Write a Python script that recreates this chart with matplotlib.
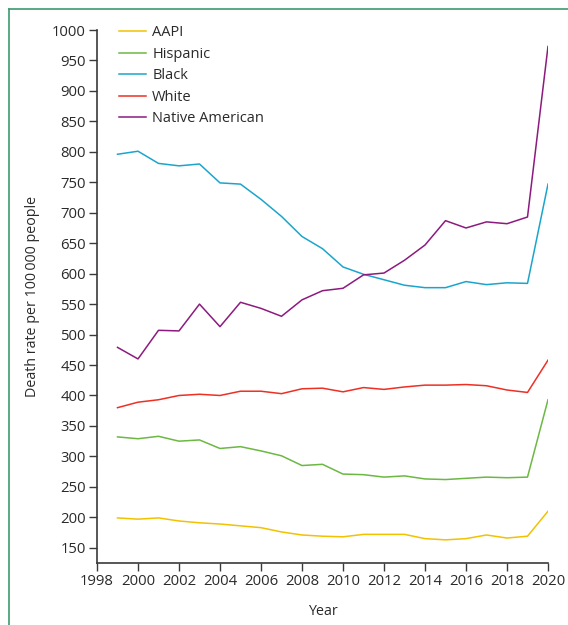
import matplotlib
matplotlib.use("Agg")
import matplotlib.pyplot as plt
from matplotlib.lines import Line2D

years = list(range(1999, 2021))
aapi = [199, 197, 199, 194, 191, 189, 186, 183, 176, 171, 169, 168, 172, 172, 172, 165, 163, 165, 171, 166, 169, 210]
hispanic = [332, 329, 333, 325, 327, 313, 316, 309, 301, 285, 287, 271, 270, 266, 268, 263, 262, 264, 266, 265, 266, 393]
black = [796, 801, 781, 777, 780, 749, 747, 722, 694, 661, 641, 611, 599, 590, 581, 577, 577, 587, 582, 585, 584, 747]
white = [380, 389, 393, 400, 402, 400, 407, 407, 403, 411, 412, 406, 413, 410, 414, 417, 417, 418, 416, 409, 405, 458]
native = [479, 460, 507, 506, 550, 513, 553, 543, 530, 557, 572, 576, 598, 601, 622, 647, 687, 675, 685, 682, 693, 973]

series_names = ["AAPI", "Hispanic", "Black", "White", "Native American"]
series_values = [aapi, hispanic, black, white, native]
colors = ["#f2c200", "#6cb843", "#1ba5cc", "#ee3024", "#8c1a7f"]

yticks = list(range(150, 1001, 50))
xticks = list(range(1998, 2021, 2))

plt.rcParams['font.family'] = ['Open Sans', 'DejaVu Sans']

fig = plt.figure(figsize=(5.68, 6.25), dpi=100)
ax = fig.add_axes([97/568, 1 - 563/625, (548-97)/568, (563-30)/625])

for name, vals, c in zip(series_names, series_values, colors):
    ax.plot(years, vals, color=c, lw=1.1, label=name)

ax.set_xlim(1998, 2020)
ax.set_ylim(125, 1000)
ax.set_yticks(yticks)
ax.set_xticks(xticks)
ax.tick_params(axis='both', direction='out', length=6, width=1.0, color='#3a3a3a',
               labelsize=10.7, labelcolor='#2a2a2a', pad=2)
for s in ['top', 'right']:
    ax.spines[s].set_visible(False)
for s in ['left', 'bottom']:
    ax.spines[s].set_color('#3a3a3a')
    ax.spines[s].set_linewidth(1.2)

ax.set_ylabel("Death rate per 100\u2009000 people", fontsize=10.3, color='#2a2a2a', labelpad=9)
ax.set_xlabel("Year", fontsize=10.3, color='#2a2a2a', labelpad=11)

leg = ax.legend(loc='upper left', bbox_to_anchor=(0.035, 1.02), frameon=False,
                fontsize=10.5, handlelength=1.9, handletextpad=0.4, labelspacing=0.45,
                borderaxespad=0)
for t in leg.get_texts():
    t.set_color('#2a2a2a')

border = '#3d9b6e'
fig.add_artist(Line2D([8.5/568, 8.5/568], [0, 1 - 8.5/625], transform=fig.transFigure, color=border, lw=1.2))
fig.add_artist(Line2D([8.5/568, 1], [1 - 8.5/625, 1 - 8.5/625], transform=fig.transFigure, color=border, lw=1.2))

fig.savefig("out.png", dpi=100)
